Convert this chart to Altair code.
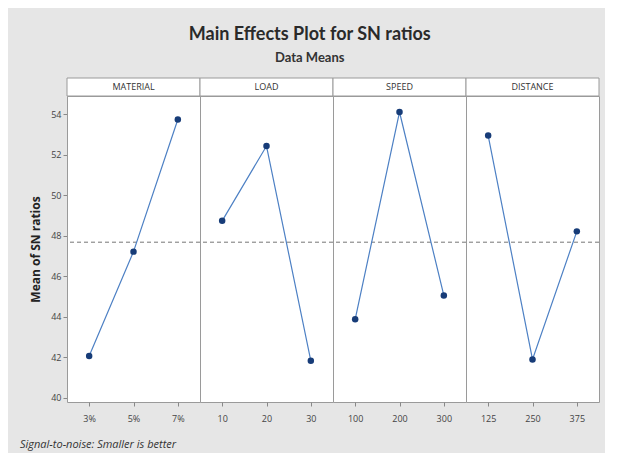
import altair as alt
import pandas as pd

factors = ["MATERIAL", "LOAD", "SPEED", "DISTANCE"]
levels = [["3%", "5%", "7%"], ["10", "20", "30"], ["100", "200", "300"], ["125", "250", "375"]]
means = [[42.07, 47.22, 53.74], [48.74, 52.43, 41.83], [43.88, 54.11, 45.06], [52.95, 41.90, 48.22]]
grand_mean = 47.68
y_ticks = [40, 42, 44, 46, 48, 50, 52, 54]
caption = "Signal-to-noise: Smaller is better"

rows = []
k = 0
for f, lv, mv in zip(factors, levels, means):
    for i, (l, m) in enumerate(zip(lv, mv)):
        rows.append({"factor": f, "level": l, "ord": k, "pos": i, "value": m})
        k += 1
df = pd.DataFrame(rows)

W = 133
H = 306
FONT = "Open Sans"

x_enc = alt.X("level:N", sort=alt.EncodingSortField(field="ord", op="min"),
              axis=alt.Axis(title=None, labelAngle=0, domain=False, tickSize=4,
                            labelFontSize=9, labelColor="#444444", tickColor="#888888",
                            labelPadding=8))
y_enc = alt.Y("value:Q", scale=alt.Scale(domain=[39.8, 54.9], nice=False, zero=False),
              axis=alt.Axis(values=y_ticks, title="Mean of SN ratios", grid=False, domain=False,
                            tickSize=4, tickColor="#888888", labelFontSize=9,
                            labelColor="#444444", titleFontSize=12, titleFontWeight="bold",
                            titleColor="#222222", titlePadding=8))

base = alt.Chart().encode(x=x_enc, y=y_enc)

mean_rule = alt.Chart().mark_rule(color="#a0a0a0", strokeDash=[4, 3], strokeWidth=1).encode(
    y=alt.datum(grand_mean))
line = base.mark_line(color="#4d80c4", strokeWidth=1.2)
pts = base.mark_point(filled=True, size=42, color="#173c78", opacity=1)

hdr_rect = alt.Chart().mark_rect(fill="white", stroke="#9a9a9a", strokeWidth=1).encode(
    x=alt.value(0), x2=alt.value(W), y=alt.value(-18), y2=alt.value(0)
).transform_filter("datum.pos == 0")
hdr_text = alt.Chart().mark_text(fontSize=9, color="#333333", baseline="middle").encode(
    x=alt.value(W / 2), y=alt.value(-9), text="factor:N"
).transform_filter("datum.pos == 0")
cap = alt.Chart().mark_text(align="left", fontStyle="italic", fontSize=11, color="#333333").encode(
    x=alt.value(-47), y=alt.value(349), text=alt.value(caption)
).transform_filter("datum.ord == 0")

layer = alt.layer(hdr_rect, hdr_text, mean_rule, line, pts, cap).properties(width=W, height=H)

chart = layer.facet(
    column=alt.Column("factor:N", sort=factors, header=None),
    data=df,
    spacing=0,
    bounds="flush",
).resolve_scale(x="independent").properties(
    title=alt.TitleParams("Main Effects Plot for SN ratios", subtitle="Data Means",
                          font="Lato", subtitleFont="Lato",
                          fontSize=18, fontWeight="bold", subtitleFontSize=13,
                          subtitleFontWeight="bold",
                          color="#2a2a2a", subtitleColor="#333333", anchor="middle",
                          offset=12, subtitlePadding=8),
    padding={"left": 11, "top": 18, "right": 5, "bottom": 2},
).configure(background="#e6e6e6", font=FONT).configure_view(stroke="#9a9a9a", fill="white")

chart.save("out.html", embed_options={"renderer": "svg", "actions": False})
